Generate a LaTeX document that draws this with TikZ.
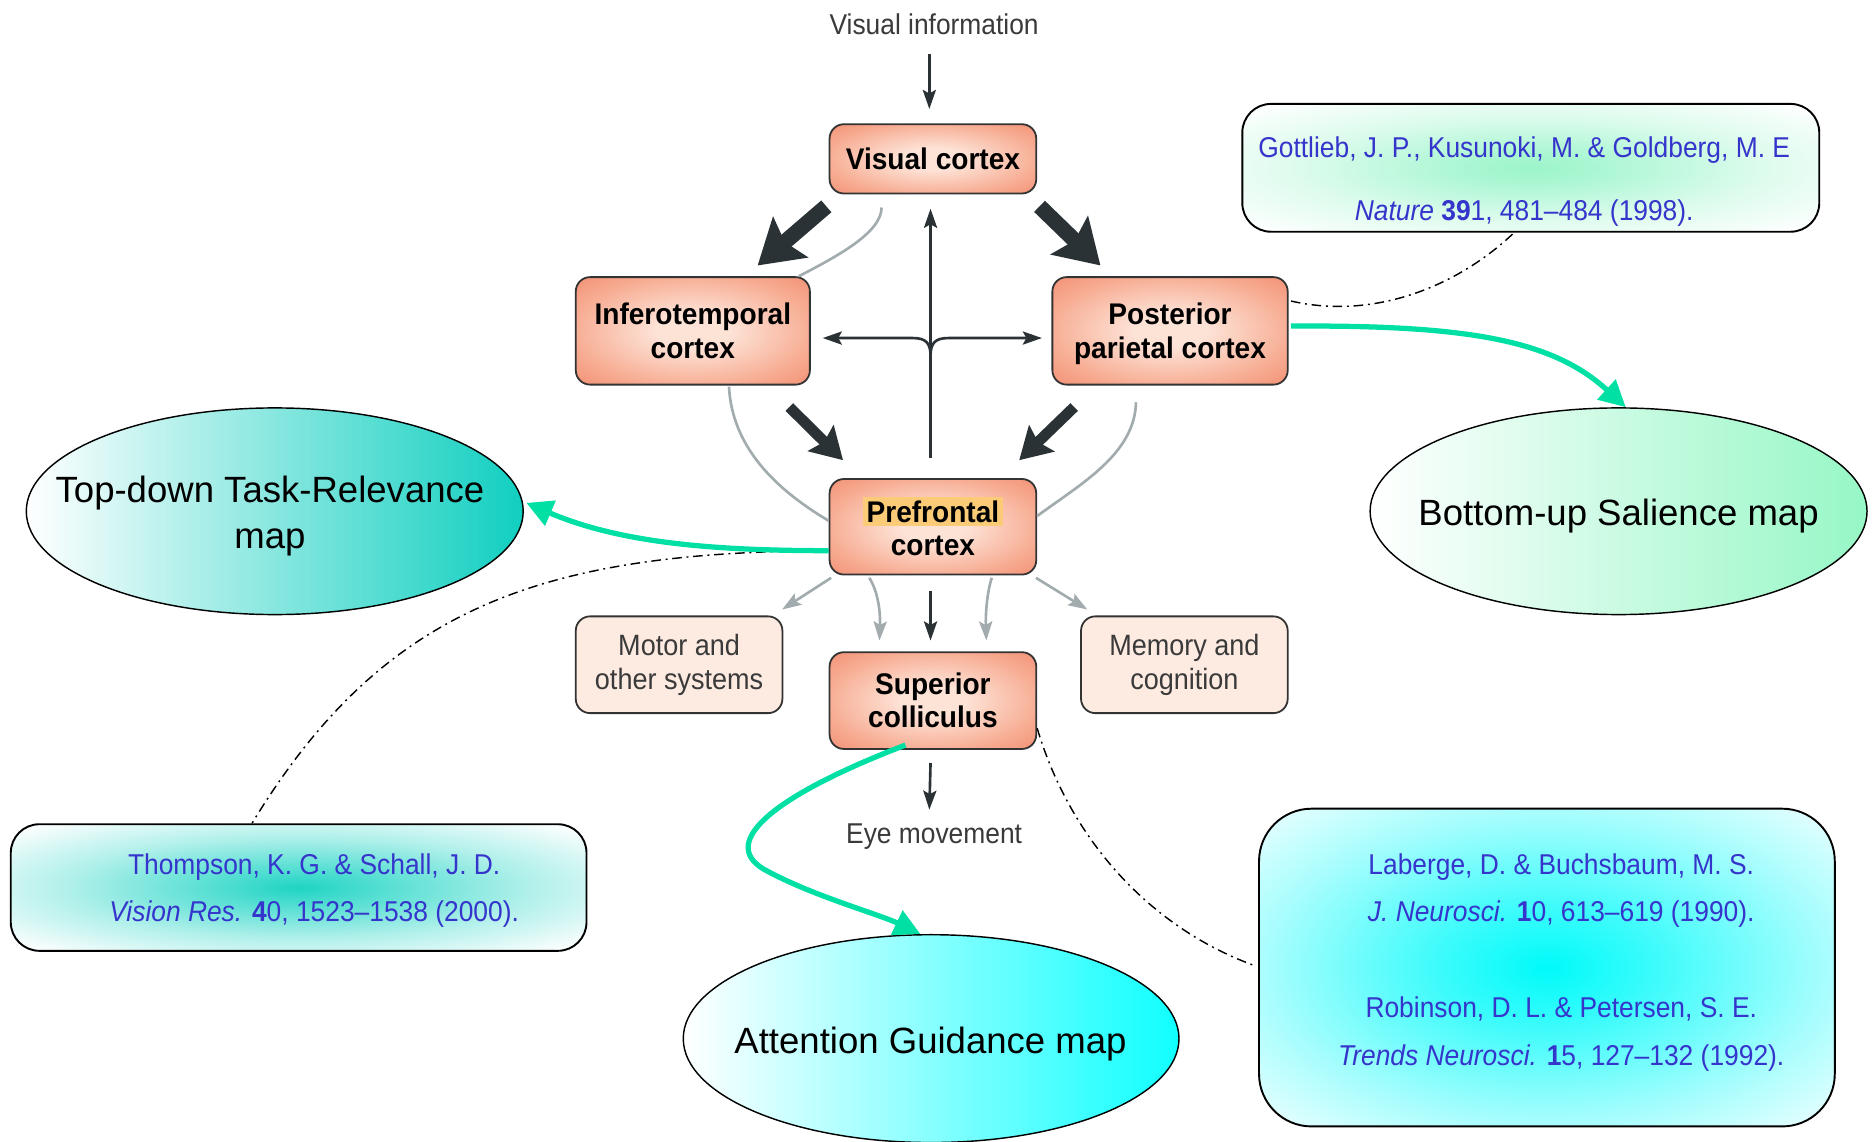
\documentclass[tikz,border=0pt]{standalone}
\usepackage{fontspec}
\setmainfont{Liberation Sans}
\newfontfamily\lblfont[FakeStretch=0.94]{Liberation Sans}
\newfontfamily\narrowfont[FakeStretch=0.92]{Liberation Sans}
\usetikzlibrary{arrows.meta,calc,shapes.geometric}
\setlength{\fboxsep}{1.5pt}

% palette
\definecolor{boxin}{HTML}{FDE2D6}
\definecolor{boxmid}{HTML}{F7AC92}
\definecolor{boxout}{HTML}{F08468}
\definecolor{palebox}{HTML}{FDEAE1}
\definecolor{edge}{HTML}{333333}
\definecolor{darkarrow}{HTML}{2B3236}
\definecolor{greyline}{HTML}{A2ABAD}
\definecolor{graytext}{HTML}{3A3A3A}
\definecolor{refblue}{HTML}{3535CC}
\definecolor{mapgreen}{HTML}{00E0A4}
\definecolor{tdteal}{HTML}{10CFC0}
\definecolor{bumint}{HTML}{96F7C6}
\definecolor{agcyan}{HTML}{10FFFF}
\definecolor{gottglow}{HTML}{9CF5CB}
\definecolor{thomglow}{HTML}{1ED4C4}
\definecolor{labglow}{HTML}{00FAFA}
\definecolor{hilite}{HTML}{FCCB78}

% soft fills for the boxes
\pgfdeclareradialshading{boxglow}{\pgfpoint{0bp}{0bp}}{%
  color(0bp)=(boxin); color(8bp)=(boxin); color(26bp)=(boxmid); color(40bp)=(boxout); color(50bp)=(boxout)}
\pgfdeclareradialshading{gottshade}{\pgfpoint{0bp}{0bp}}{%
  color(0bp)=(gottglow); color(6bp)=(gottglow!85!white); color(20bp)=(gottglow!35!white); color(34bp)=(white); color(50bp)=(white)}
\pgfdeclareradialshading{thomshade}{\pgfpoint{0bp}{0bp}}{%
  color(0bp)=(thomglow); color(6bp)=(thomglow!80!white); color(20bp)=(thomglow!35!white); color(34bp)=(white); color(50bp)=(white)}
\pgfdeclareradialshading{labshade}{\pgfpoint{0bp}{0bp}}{%
  color(0bp)=(labglow); color(8bp)=(labglow!80!white); color(24bp)=(labglow!35!white); color(38bp)=(white); color(50bp)=(white)}

\begin{document}
\begin{tikzpicture}[x=0.5pt,y=-0.5pt,
  cortexbox/.style={draw=edge, line width=0.75pt, rounded corners=6pt, shade, shading=boxglow,
    inner sep=0pt, align=center, text=black, font=\lblfont\bfseries\fontsize{12.5}{14}\selectfont},
  sidebox/.style={draw=edge, line width=0.75pt, rounded corners=6pt, fill=palebox,
    inner sep=0pt, align=center, text=graytext, font=\narrowfont\fontsize{12.3}{14.5}\selectfont},
  mapoval/.style={ellipse, draw=black, line width=0.6pt, inner sep=0pt,
    minimum width=208pt, minimum height=86.5pt},
  maptext/.style={align=center, inner sep=0pt, text=black, font=\fontsize{15.3}{19}\selectfont},
  refbox/.style={draw=black, line width=0.8pt, inner sep=0pt, shade},
  reftext/.style={align=center, text=refblue, inner sep=0pt, font=\narrowfont\fontsize{12}{20}\selectfont},
  plainlabel/.style={text=graytext, inner sep=0pt, font=\narrowfont\fontsize{12}{14}\selectfont},
  darr/.style={draw=darkarrow, line width=1.1pt, -{Stealth[length=8pt,width=5.5pt,inset=1.5pt]}},
  greyarr/.style={draw=greyline, line width=1.1pt, -{Stealth[length=8pt,width=5.5pt,inset=1.5pt]}},
  fbline/.style={draw=greyline, line width=1.1pt},
  fatarr/.style={draw=darkarrow, line width=6.5pt, -{Stealth[length=18pt,width=22pt,inset=3pt]}},
  medarr/.style={draw=darkarrow, line width=4.5pt, -{Stealth[length=13pt,width=15pt,inset=2pt]}},
  greenarr/.style={draw=mapgreen, line width=2.2pt, -{Triangle[length=11pt,width=11pt]}},
  linkline/.style={draw=black, line width=0.6pt, dash pattern=on 4pt off 2pt on 0.8pt off 2pt}]

\useasboundingbox (0,0) rectangle (1568,956);
\fill[white] (0,0) rectangle (1568,956);

% ---------------- reference boxes ----------------
\node[refbox, rounded corners=12pt, shading=gottshade, minimum width=241.5pt, minimum height=53.5pt] (gott) at (1281.5,140.5) {};
\node[reftext, font=\narrowfont\fontsize{12}{26.5}\selectfont] (gotttxt) at (1276,152)
  {Gottlieb, J. P., Kusunoki, M. \& Goldberg, M. E\\ \textit{Nature} \textbf{39}1, 481–484 (1998).};

\node[refbox, rounded corners=12pt, shading=thomshade, minimum width=241pt, minimum height=53pt] (thom) at (250,743) {};
\node[reftext] (thomtxt) at (263,745.5)
  {Thompson, K. G. \& Schall, J. D.\\ \textit{Vision Res.} \textbf{4}0, 1523–1538 (2000).};

\node[refbox, rounded corners=22pt, shading=labshade, minimum width=241pt, minimum height=133pt] (lab) at (1295,810) {};
\node[reftext] (labtxt) at (1307,805.5)
  {Laberge, D. \& Buchsbaum, M. S.\\ \textit{J. Neurosci.} \textbf{1}0, 613–619 (1990).\\[20pt]
   Robinson, D. L. \& Petersen, S. E.\\ \textit{Trends Neurosci.} \textbf{1}5, 127–132 (1992).};

% ---------------- map ellipses ----------------
\node[mapoval, left color=white, right color=tdteal] (td) at (230,428) {};
\node[maptext] (tdtxt) at (226,432) {Top-down Task-Relevance\\map};
\node[mapoval, left color=white, right color=bumint] (bu) at (1355,428) {};
\node[maptext] (butxt) at (1355,432) {Bottom-up Salience map};
\node[mapoval, left color=white, right color=agcyan, minimum width=207.5pt, minimum height=87pt] (ag) at (779.5,869.5) {};
\node[maptext] (agtxt) at (779,874) {Attention Guidance map};

% ---------------- cortical areas ----------------
\node[plainlabel] (vinfo) at (782,20) {Visual information};
\node[cortexbox, minimum width=86.5pt, minimum height=29pt] (vc) at (781,133) {Visual cortex};
\node[cortexbox, minimum width=98pt, minimum height=45pt] (it) at (580,277) {Inferotemporal\\cortex};
\node[cortexbox, minimum width=98.5pt, minimum height=45pt, text depth=0pt] (ppc) at (979.5,277) {Posterior\\parietal cortex};
\node[cortexbox, minimum width=86.5pt, minimum height=40pt] (pfc) at (781,441) {\colorbox{hilite}{Prefrontal}\\cortex};
\node[cortexbox, minimum width=86.5pt, minimum height=40.5pt] (sc) at (781,586.5) {Superior\\colliculus};
\node[sidebox, minimum width=86.5pt, minimum height=40.5pt] (motor) at (568.5,556.5) {Motor and\\other systems};
\node[sidebox, minimum width=86.5pt, minimum height=40.5pt] (mem) at (991.5,556.5) {Memory and\\cognition};
\node[plainlabel] (eye) at (782,700) {Eye movement};

% ---------------- grey feedback curves ----------------
\draw[fbline] ($(vc.south)+(-43,11)$) .. controls (738,195) and (700,215) .. ($(it.north east)+(-10,0)$);
\draw[fbline] ($(it.south west)+(129,1)$) .. controls (613,375) and (650,410) .. ($(pfc.west)+(0,-5)$);
\draw[fbline] ($(ppc.south)+(-28.5,14)$) .. controls (950,380) and (905,405) .. ($(pfc.east)+(0,-9)$);

% ---------------- main dark pathways ----------------
\draw[darr] ($(vinfo.south)+(-4,16)$) -- ($(vc.north)+(-3,-12)$);
\draw[fatarr] ($(vc.south west)+(-2,10)$) -- ($(it.north west)+(153,-9)$);
\draw[fatarr] ($(vc.south east)+(2,10)$) -- ($(ppc.north west)+(41,-9)$);
\draw[medarr] ($(it.south east)+(-18,18)$) -- ($(pfc.north west)+(12,-15)$);
\draw[medarr] ($(ppc.south west)+(19,18)$) -- ($(pfc.north east)+(-15,-15)$);
\draw[darr] ($(pfc.north)+(-2,-17)$) -- ($(vc.south)+(-2,12)$);
\coordinate (fork) at (779,298);
\draw[darr] (fork) .. controls (779,287) and (775,283) .. (764,283) -- ($(it.east)+(10,6)$);
\draw[darr] (fork) .. controls (779,287) and (783,283) .. (794,283) -- ($(ppc.west)+(-8,6)$);
\draw[darr] ($(pfc.south)+(-2,13)$) -- ($(sc.north)+(-2,-9)$);
\draw[darr] ($(sc.south)+(-2,11)$) -- ($(eye.north)+(-4,-11)$);

% ---------------- grey outputs of prefrontal cortex ----------------
\draw[greyarr] ($(pfc.south west)+(2,2)$) -- ($(motor.north east)+(-1,-5)$);
\draw[greyarr] ($(pfc.south west)+(34,2)$) .. controls (736,497) and (737,515) .. ($(sc.north west)+(42.5,-9)$);
\draw[greyarr] ($(pfc.south east)+(-38,2)$) .. controls (826,497) and (825,515) .. ($(sc.north east)+(-42.5,-9)$);
\draw[greyarr] ($(pfc.south east)+(-1,2)$) -- ($(mem.north west)+(6,-5)$);

% ---------------- links to the references ----------------
\draw[linkline] ($(ppc.east)+(2,-25)$) .. controls (1150,268) and (1220,240) .. ($(gott.south)+(-14,0)$);
\draw[linkline] ($(pfc.west)+(0,20)$) .. controls (450,462) and (320,510) .. ($(thom.north)+(-39,0)$);
\draw[linkline] ($(sc.east)+(0,23)$) .. controls (895,700) and (960,775) .. ($(lab.west)+(-4,-2)$);

% ---------------- links to the maps ----------------
\draw[greenarr] ($(pfc.west)+(0,20)$) .. controls (600,461) and (520,455) .. ($(td.east)+(2,-7)$);
\draw[greenarr] ($(ppc.east)+(2,-4)$) .. controls (1230,272) and (1300,285) .. ($(bu.north)+(6,0)$);
\draw[greenarr] ($(sc.south)+(-23,-4)$) .. controls (650,665) and (600,705) .. (640,728)
  .. controls (680,750) and (735,765) .. ($(ag.north)+(-9,0)$);
\end{tikzpicture}
\end{document}
